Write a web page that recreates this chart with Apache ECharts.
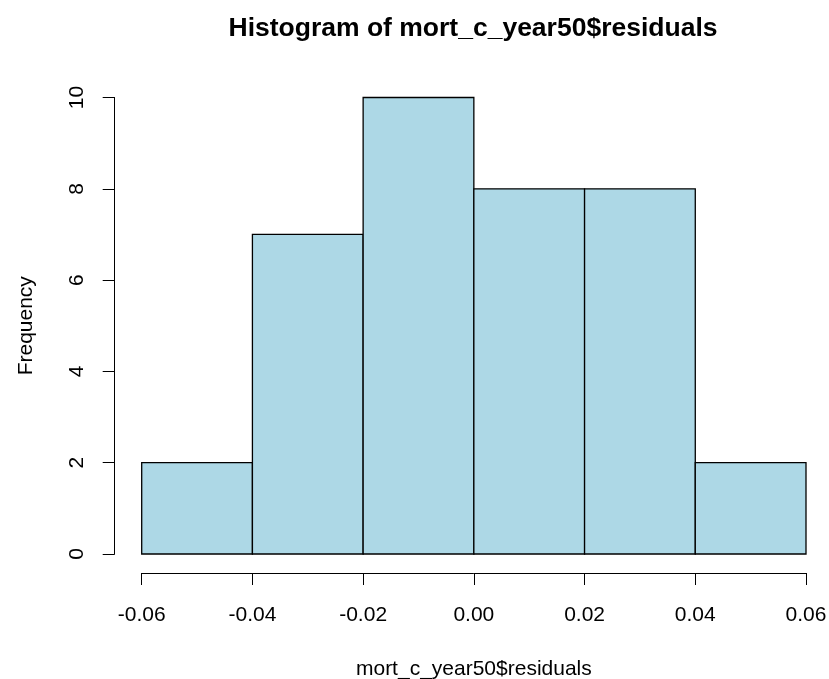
<!DOCTYPE html>
<html>
<head>
<meta charset="utf-8">
<script src="https://cdn.jsdelivr.net/npm/echarts@6/dist/echarts.min.js"></script>
<style>
html,body{margin:0;padding:0;background:#fff;}
#chart{width:829px;height:679px;}
</style>
</head>
<body>
<div id="chart"></div>
<script>
// Histogram data (bin edges and counts)
var binStarts = [-0.06, -0.04, -0.02, 0.00, 0.02, 0.04];
var binEnds   = [-0.04, -0.02, 0.00, 0.02, 0.04, 0.06];
var counts    = [2, 7, 10, 8, 8, 2];
var titleText = 'Histogram of mort_c_year50$residuals';
var xTitle = 'mort_c_year50$residuals';
var yTitle = 'Frequency';

var data = binStarts.map(function (s, i) { return [s, binEnds[i], counts[i]]; });
var FONT = '"Liberation Sans", Arial, sans-serif';

var chart = echarts.init(document.getElementById('chart'), null, {renderer: 'canvas'});
chart.setOption({
  animation: false,
  backgroundColor: '#ffffff',
  title: {
    text: titleText,
    left: 468,
    top: 10,
    textAlign: 'center',
    textStyle: {fontFamily: FONT, fontSize: 26.5, fontWeight: 'bold', color: '#000'}
  },
  grid: {left: 141.7, right: 23, top: 97.5, bottom: 125, outerBoundsMode: 'none', containLabel: false},
  xAxis: {
    type: 'value',
    min: -0.06, max: 0.06, interval: 0.02,
    offset: 19,
    name: xTitle,
    nameLocation: 'middle',
    nameGap: 86,
    nameTextStyle: {fontFamily: FONT, fontSize: 21, color: '#000'},
    axisLine: {show: true, onZero: false, lineStyle: {color: '#000', width: 1}},
    axisTick: {show: true, length: 12, inside: false, lineStyle: {color: '#000', width: 1}},
    axisLabel: {
      margin: 32, fontFamily: FONT, fontSize: 21, color: '#000',
      formatter: function (v) { return v.toFixed(2); }
    },
    splitLine: {show: false}
  },
  yAxis: {
    type: 'value',
    min: 0, max: 10, interval: 2,
    offset: 27,
    name: yTitle,
    nameLocation: 'middle',
    nameRotate: 90,
    nameGap: 78,
    nameTextStyle: {fontFamily: FONT, fontSize: 21, color: '#000'},
    axisLine: {show: true, onZero: false, lineStyle: {color: '#000', width: 1}},
    axisTick: {show: true, length: 12, inside: false, lineStyle: {color: '#000', width: 1}},
    axisLabel: {
      margin: 27, rotate: 90, fontFamily: FONT, fontSize: 21, color: '#000'
    },
    splitLine: {show: false}
  },
  series: [{
    type: 'custom',
    data: data,
    encode: {x: [0, 1], y: 2},
    renderItem: function (params, api) {
      var p1 = api.coord([api.value(0), api.value(2)]);
      var p2 = api.coord([api.value(1), 0]);
      return {
        type: 'rect',
        shape: {x: p1[0], y: p1[1], width: p2[0] - p1[0], height: p2[1] - p1[1]},
        style: {fill: '#ADD8E6', stroke: '#000', lineWidth: 1.3}
      };
    }
  }]
});
</script>
</body>
</html>
